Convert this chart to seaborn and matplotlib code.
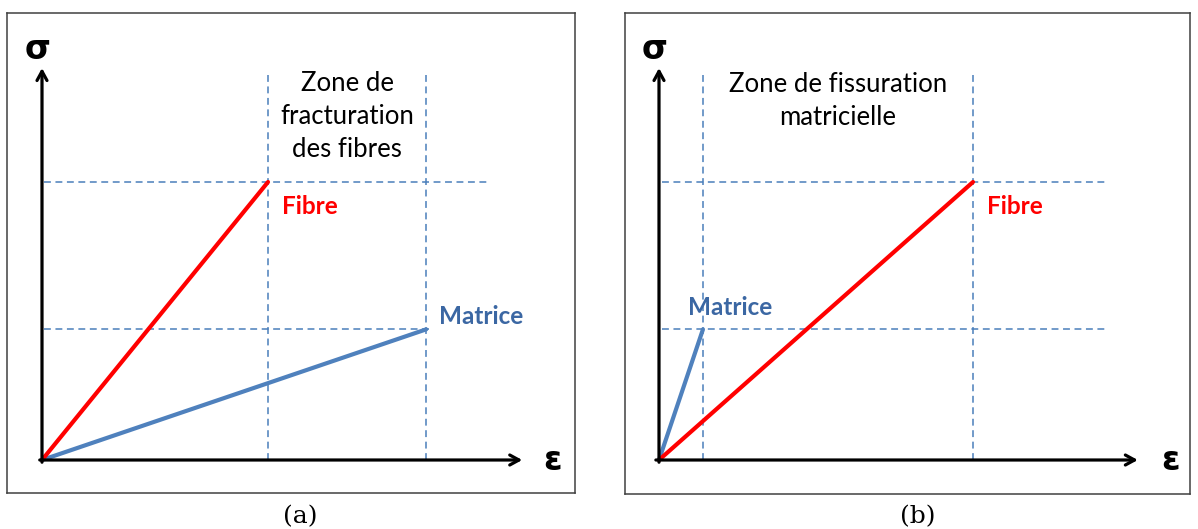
import matplotlib
matplotlib.use("Agg")
import matplotlib.pyplot as plt
import seaborn as sns
import pandas as pd

sns.set_theme(style="white")
plt.rcParams['font.family'] = ['Lato', 'DejaVu Sans']

# Rupture points of each constituent (stress normalised to fibre rupture stress,
# strain normalised to fibre rupture strain)
materials = ["Fibre", "Matrice"]
rupture_stress = [1.0, 0.47]
rupture_strain_a = [1.0, 1.70]   # (a): matrix more ductile than fibre
rupture_strain_b = [1.0, 0.14]   # (b): matrix breaks first
zone_labels = ["Zone de\nfracturation\ndes fibres", "Zone de fissuration\nmatricielle"]
panel_labels = ["(a)", "(b)"]

colors = {"Fibre": "#FF0000", "Matrice": "#4F81BD"}
text_colors = {"Fibre": "#FF0000", "Matrice": "#3B67A3"}
dash_color = "#4A7EBB"

W, H = 1198, 529
fig = plt.figure(figsize=(W / 100, H / 100), dpi=100)
fig.patch.set_facecolor("white")

# panel geometry (pixels): box, origin, pixel size of one unit
panels = [
    dict(box=(7, 13, 575, 493), origin=(42, 460), ux=226, uy=278,
         strains=rupture_strain_a, x_end=2.125, y_end=1.41,
         hline_end=[1.969, 1.717], zone_xy=(1.35, 1.235),
         label_off={"Fibre": (10, -23), "Matrice": (9, 4)},
         eps_x=2.26, label_x=300),
    dict(box=(625, 13, 1190, 494), origin=(659, 460), ux=314, uy=278,
         strains=rupture_strain_b, x_end=1.525, y_end=1.41,
         hline_end=[1.42, 1.42], zone_xy=(0.57, 1.29),
         label_off={"Fibre": (10, -23), "Matrice": (-11, 10)},
         eps_x=1.63, label_x=918),
]

for i, p in enumerate(panels):
    x0, y0, x1, y1 = p["box"]
    ox, oy = p["origin"]
    ax = fig.add_axes([x0 / W, 1 - y1 / H, (x1 - x0) / W, (y1 - y0) / H])
    ax.set_xlim(-(ox - x0) / p["ux"], (x1 - ox) / p["ux"])
    ax.set_ylim(-(y1 - oy) / p["uy"], (oy - y0) / p["uy"])
    ax.set_xticks([])
    ax.set_yticks([])
    ax.set_facecolor("white")
    for s in ax.spines.values():
        s.set_color("#404040")
        s.set_linewidth(1.1)

    strains = p["strains"]

    # dashed guide lines at rupture strains and stresses
    for eps in strains:
        ax.plot([eps, eps], [0, 1.385], color=dash_color, lw=1.1,
                dashes=(4.5, 3), zorder=1)
    for sig, xe in zip(rupture_stress, p["hline_end"]):
        ax.plot([0.01, xe], [sig, sig], color=dash_color, lw=1.1,
                dashes=(4.5, 3), zorder=1)

    # stress-strain curves (linear elastic up to rupture)
    rows = []
    for m, eps, sig in zip(materials, strains, rupture_stress):
        rows.append({"materiau": m, "eps": 0.0, "sigma": 0.0})
        rows.append({"materiau": m, "eps": eps, "sigma": sig})
    df = pd.DataFrame(rows)
    sns.lineplot(data=df, x="eps", y="sigma", hue="materiau",
                 hue_order=["Matrice", "Fibre"], palette=colors,
                 sort=False, estimator=None, lw=3, legend=False, ax=ax,
                 zorder=3)
    ax.set_xlabel("")
    ax.set_ylabel("")

    # axes arrows
    arrow = dict(arrowstyle="->,head_length=0.55,head_width=0.3",
                 lw=2.3, color="black", shrinkA=0, shrinkB=0)
    ax.annotate("", xy=(p["x_end"], 0), xytext=(-0.01, 0), arrowprops=arrow,
                zorder=4)
    ax.annotate("", xy=(0, p["y_end"]), xytext=(0, -0.008), arrowprops=arrow,
                zorder=4)
    ax.text(-0.02 * (1 if i == 0 else 0.7), 1.475, "σ", fontsize=24,
            fontweight="bold", ha="center", va="center",
            family="DejaVu Sans", color="black")
    ax.text(p["eps_x"], 0.0, "ε", fontsize=24, fontweight="bold",
            ha="center", va="center", family="DejaVu Sans", color="black")

    # material labels at rupture points
    for m, eps, sig in zip(materials, strains, rupture_stress):
        ax.annotate(m, xy=(eps, sig), xytext=p["label_off"][m],
                    textcoords="offset points", color=text_colors[m],
                    fontsize=17.5, fontweight="bold", ha="left", va="baseline")

    # zone annotation
    zx, zy = p["zone_xy"]
    ax.text(zx, zy, zone_labels[i], fontsize=18.5, ha="center", va="center",
            linespacing=1.4, color="black")

    fig.text(p["label_x"] / W, 1 - 517 / H, panel_labels[i], fontsize=18,
             ha="center", va="center", family="DejaVu Serif", color="black")

fig.savefig("out.png", dpi=100, facecolor="white")
